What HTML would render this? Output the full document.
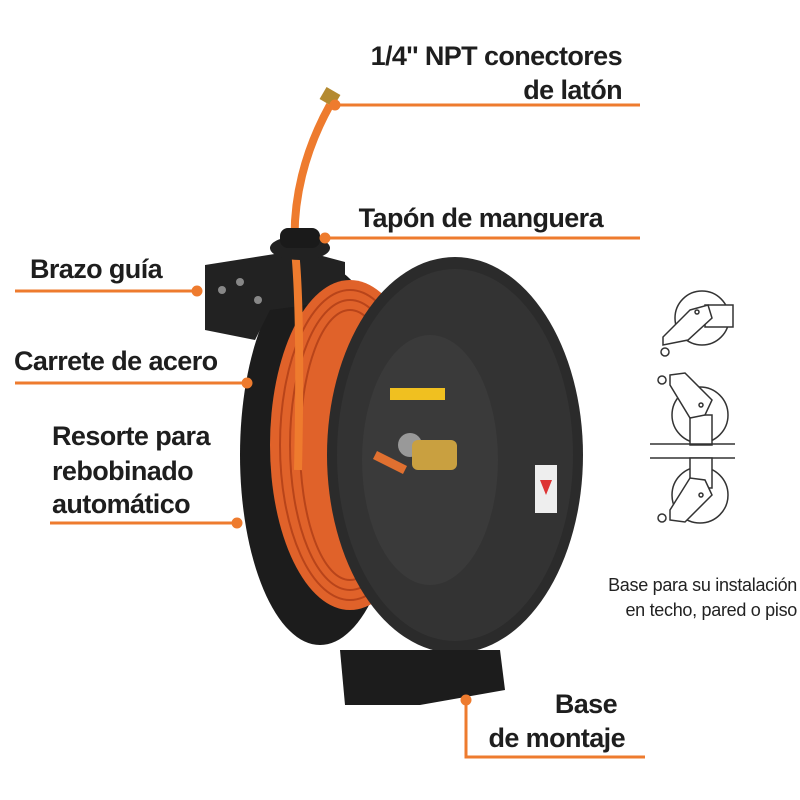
<!DOCTYPE html>
<html><head><meta charset="utf-8"><style>
body{margin:0;background:#fff}
svg{display:block}
.l{font-family:"Liberation Sans",sans-serif;font-weight:bold;font-size:27px;fill:#1e1e1e;letter-spacing:-0.6px}
.s{font-family:"Liberation Sans",sans-serif;font-size:18px;fill:#222;letter-spacing:-0.3px}
</style></head><body>
<svg width="800" height="800" viewBox="0 0 800 800" xmlns="http://www.w3.org/2000/svg">
<rect width="800" height="800" fill="#fff"/>
<ellipse cx="320" cy="455" rx="80" ry="190" fill="#1c1c1c"/>
<polygon points="205,265 300,250 345,262 345,300 270,310 255,340 205,330" fill="#222"/>
<circle cx="222" cy="290" r="4" fill="#888"/><circle cx="240" cy="282" r="4" fill="#888"/><circle cx="258" cy="300" r="4" fill="#888"/>
<ellipse cx="350" cy="445" rx="80" ry="165" fill="#e0622a"/>
<g stroke="#b8441a" stroke-width="2" fill="none">
<ellipse cx="350" cy="445" rx="70" ry="155"/><ellipse cx="350" cy="445" rx="60" ry="145"/><ellipse cx="350" cy="445" rx="50" ry="135"/>
</g>
<ellipse cx="455" cy="455" rx="128" ry="198" fill="#2b2b2b"/>
<ellipse cx="455" cy="455" rx="118" ry="186" fill="#333"/>
<ellipse cx="430" cy="460" rx="68" ry="125" fill="#3a3a3a"/>
<rect x="390" y="388" width="55" height="12" fill="#f0c020"/>
<rect x="535" y="465" width="22" height="48" fill="#eee"/>
<polygon points="540,480 552,480 546,495" fill="#d33"/>
<circle cx="410" cy="445" r="12" fill="#999"/>
<rect x="412" y="440" width="45" height="30" rx="6" fill="#c9a040"/>
<path d="M375 455 L405 470" stroke="#e07030" stroke-width="9"/>
<polygon points="340,650 500,650 505,690 420,705 345,705" fill="#1c1c1c"/>
<path d="M298 470 C300 380 300 300 295 250 C292 200 305 150 330 105" stroke="#ee7b2e" stroke-width="8" fill="none"/>
<rect x="322" y="90" width="16" height="14" fill="#b48a30" transform="rotate(30 330 97)"/>
<ellipse cx="300" cy="248" rx="30" ry="12" fill="#222"/>
<rect x="280" y="228" width="40" height="20" rx="8" fill="#1a1a1a"/>
<g fill="#ee7b2e" stroke="#ee7b2e" stroke-width="3">
<line x1="335" y1="105" x2="640" y2="105"/><circle cx="335" cy="105" r="4"/>
<line x1="325" y1="238" x2="640" y2="238"/><circle cx="325" cy="238" r="4"/>
<line x1="15" y1="291" x2="197" y2="291"/><circle cx="197" cy="291" r="4"/>
<line x1="15" y1="383" x2="247" y2="383"/><circle cx="247" cy="383" r="4"/>
<line x1="50" y1="523" x2="237" y2="523"/><circle cx="237" cy="523" r="4"/>
<polyline points="466,700 466,757 645,757" fill="none"/><circle cx="466" cy="700" r="4"/>
</g>
<text class="l" x="622" y="65" text-anchor="end">1/4'' NPT conectores</text>
<text class="l" x="622" y="99" text-anchor="end">de latón</text>
<text class="l" x="603" y="227" text-anchor="end">Tapón de manguera</text>
<text class="l" x="30" y="278">Brazo guía</text>
<text class="l" x="14" y="370">Carrete de acero</text>
<text class="l" x="52" y="445">Resorte para</text>
<text class="l" x="52" y="480">rebobinado</text>
<text class="l" x="52" y="513">automático</text>
<text class="l" x="617" y="713" text-anchor="end">Base</text>
<text class="l" x="625" y="747" text-anchor="end">de montaje</text>
<text class="s" x="797" y="591" text-anchor="end">Base para su instalación</text>
<text class="s" x="797" y="616" text-anchor="end">en techo, pared o piso</text>
<g stroke="#333" stroke-width="1.5" fill="#fff">
<circle cx="702" cy="318" r="27"/>
<rect x="705" y="305" width="28" height="22"/>
<polygon points="690,310 708,305 712,318 688,340 663,345 663,337"/>
<circle cx="697" cy="312" r="2"/>
<circle cx="700" cy="415" r="28"/>
<rect x="690" y="415" width="22" height="30"/>
<polygon points="670,375 685,373 712,400 705,415 690,418 670,385"/>
<circle cx="701" cy="405" r="2"/>
<line x1="650" y1="444" x2="735" y2="444"/><line x1="650" y1="458" x2="735" y2="458"/>
<circle cx="700" cy="495" r="28"/>
<rect x="690" y="458" width="22" height="30"/>
<polygon points="670,520 685,522 712,495 705,480 690,478 670,510"/>
<circle cx="701" cy="495" r="2"/>
<circle cx="665" cy="352" r="4"/><circle cx="662" cy="380" r="4"/><circle cx="662" cy="518" r="4"/>
</g>
</svg>
</body></html>
